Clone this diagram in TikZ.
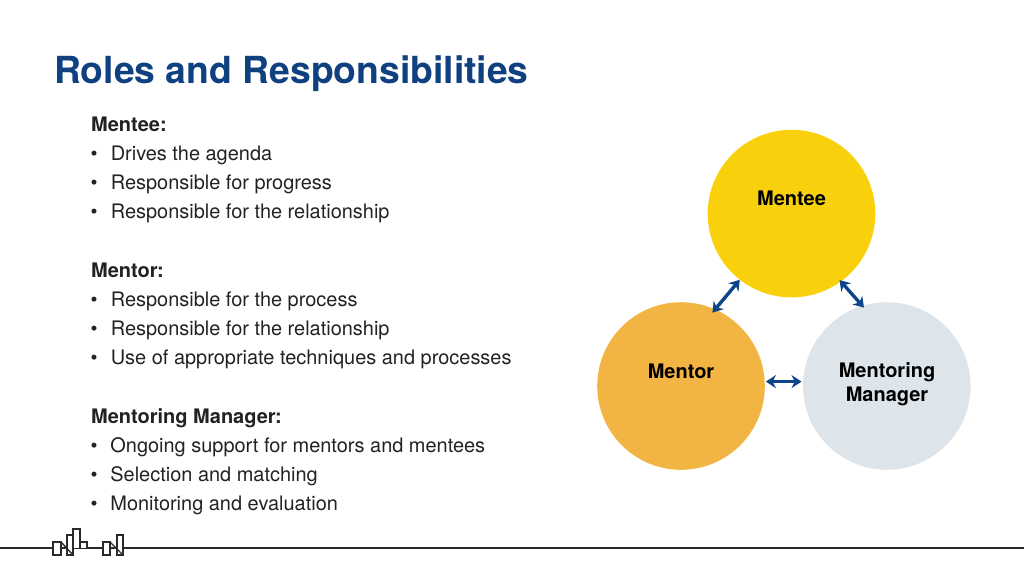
\documentclass[tikz,border=0pt]{standalone}
\usepackage{fontspec}
\setmainfont{TeX Gyre Heros}
\usetikzlibrary{arrows.meta}
\definecolor{navy}{HTML}{0F4080}
\definecolor{arrowblue}{HTML}{0D4488}
\definecolor{ink}{HTML}{222222}
\definecolor{ruleink}{HTML}{2A2A2A}
\definecolor{sun}{HTML}{F8D10C}
\definecolor{amber}{HTML}{F2B544}
\definecolor{mist}{HTML}{DEE5EA}
\tikzset{
  x=1pt,y=-1pt,
  titletext/.style={anchor=base west,inner sep=0pt,font=\fontsize{37.3pt}{40pt}\selectfont\bfseries,text=navy},
  headtext/.style={anchor=base west,inner sep=0pt,font=\fontsize{20pt}{24pt}\selectfont\bfseries,text=ink},
  bodytext/.style={anchor=base west,inner sep=0pt,font=\fontsize{19.95pt}{24pt}\selectfont,text=ink},
  disc/.style={circle,inner sep=0pt,minimum size=167.6pt},
  disclabel/.style={inner sep=0pt,align=center,font=\fontsize{20pt}{24.5pt}\selectfont\bfseries,text=black},
  link/.style={draw=arrowblue,line width=3.4pt,{Stealth[length=10pt,width=13pt]}-{Stealth[length=10pt,width=13pt]}},
  logo/.style={draw=ruleink,line width=1.4pt,fill=white},
  baseline rule/.style={draw=ruleink,line width=1.9pt},
}
\begin{document}
\begin{tikzpicture}
\useasboundingbox (0,0) rectangle (1024,576);
\node[titletext] (title) at (54,83) {Roles and Responsibilities};

\node[headtext] (h1) at (91,131) {Mentee:};
\node[bodytext] (b11) at (90.5,160.3) {•};
\node[bodytext] (t11) at (110.6,160.3) {Drives the agenda};
\node[bodytext] (b12) at (90.5,189.3) {•};
\node[bodytext] (t12) at (110.6,189.3) {Responsible for progress};
\node[bodytext] (b13) at (90.5,218.3) {•};
\node[bodytext] (t13) at (110.6,218.3) {Responsible for the relationship};

\node[headtext] (h2) at (91,277) {Mentor:};
\node[bodytext] (b21) at (90.5,306.3) {•};
\node[bodytext] (t21) at (110.6,306.3) {Responsible for the process};
\node[bodytext] (b22) at (90.5,335.3) {•};
\node[bodytext] (t22) at (110.6,335.3) {Responsible for the relationship};
\node[bodytext] (b23) at (90.5,364.3) {•};
\node[bodytext] (t23) at (110.6,364.3) {Use of appropriate techniques and processes};

\node[headtext] (h3) at (91,423) {Mentoring Manager:};
\node[bodytext] (b31) at (90.5,452.3) {•};
\node[bodytext] (t31) at (110.2,452.3) {Ongoing support for mentors and mentees};
\node[bodytext] (b32) at (90.5,481.3) {•};
\node[bodytext] (t32) at (110.2,481.3) {Selection and matching};
\node[bodytext] (b33) at (90.5,510.3) {•};
\node[bodytext] (t33) at (110.2,510.3) {Monitoring and evaluation};

\node[disc,fill=sun] (mentee) at (791.5,213.6) {};
\node[disc,fill=amber] (mentor) at (681,386) {};
\node[disc,fill=mist] (manager) at (886.8,386) {};
\node[disclabel] (lmentee) at (791.5,198) {Mentee};
\node[disclabel] (lmentor) at (681,371) {Mentor};
\node[disclabel] (lmanager) at (887,384) {Mentoring\\Manager};

\draw[link,shorten >=-4.4pt] (mentee.232) -- (mentor.66);
\draw[link,shorten <=-2pt,shorten >=-2.6pt] (mentee.306) -- (manager.107);
\draw[link,shorten <=1pt,shorten >=1.4pt] (mentor.3) -- (manager.177);

\draw[baseline rule] (0,548.2) -- (1024,548.2);
\draw[logo] (53,542) rectangle (61,555);
\draw[logo] (67,535) rectangle (73,555);
\draw[logo] (73,529) rectangle (80,548.2);
\draw[logo] (80,542) rectangle (87,548.2);
\draw[logo,fill=none] (61,542) -- (73,555);
\draw[logo] (103,542) rectangle (110,555);
\draw[logo] (117,535) rectangle (123,555);
\draw[logo,fill=none] (110,542) -- (123,555);
\end{tikzpicture}
\end{document}
